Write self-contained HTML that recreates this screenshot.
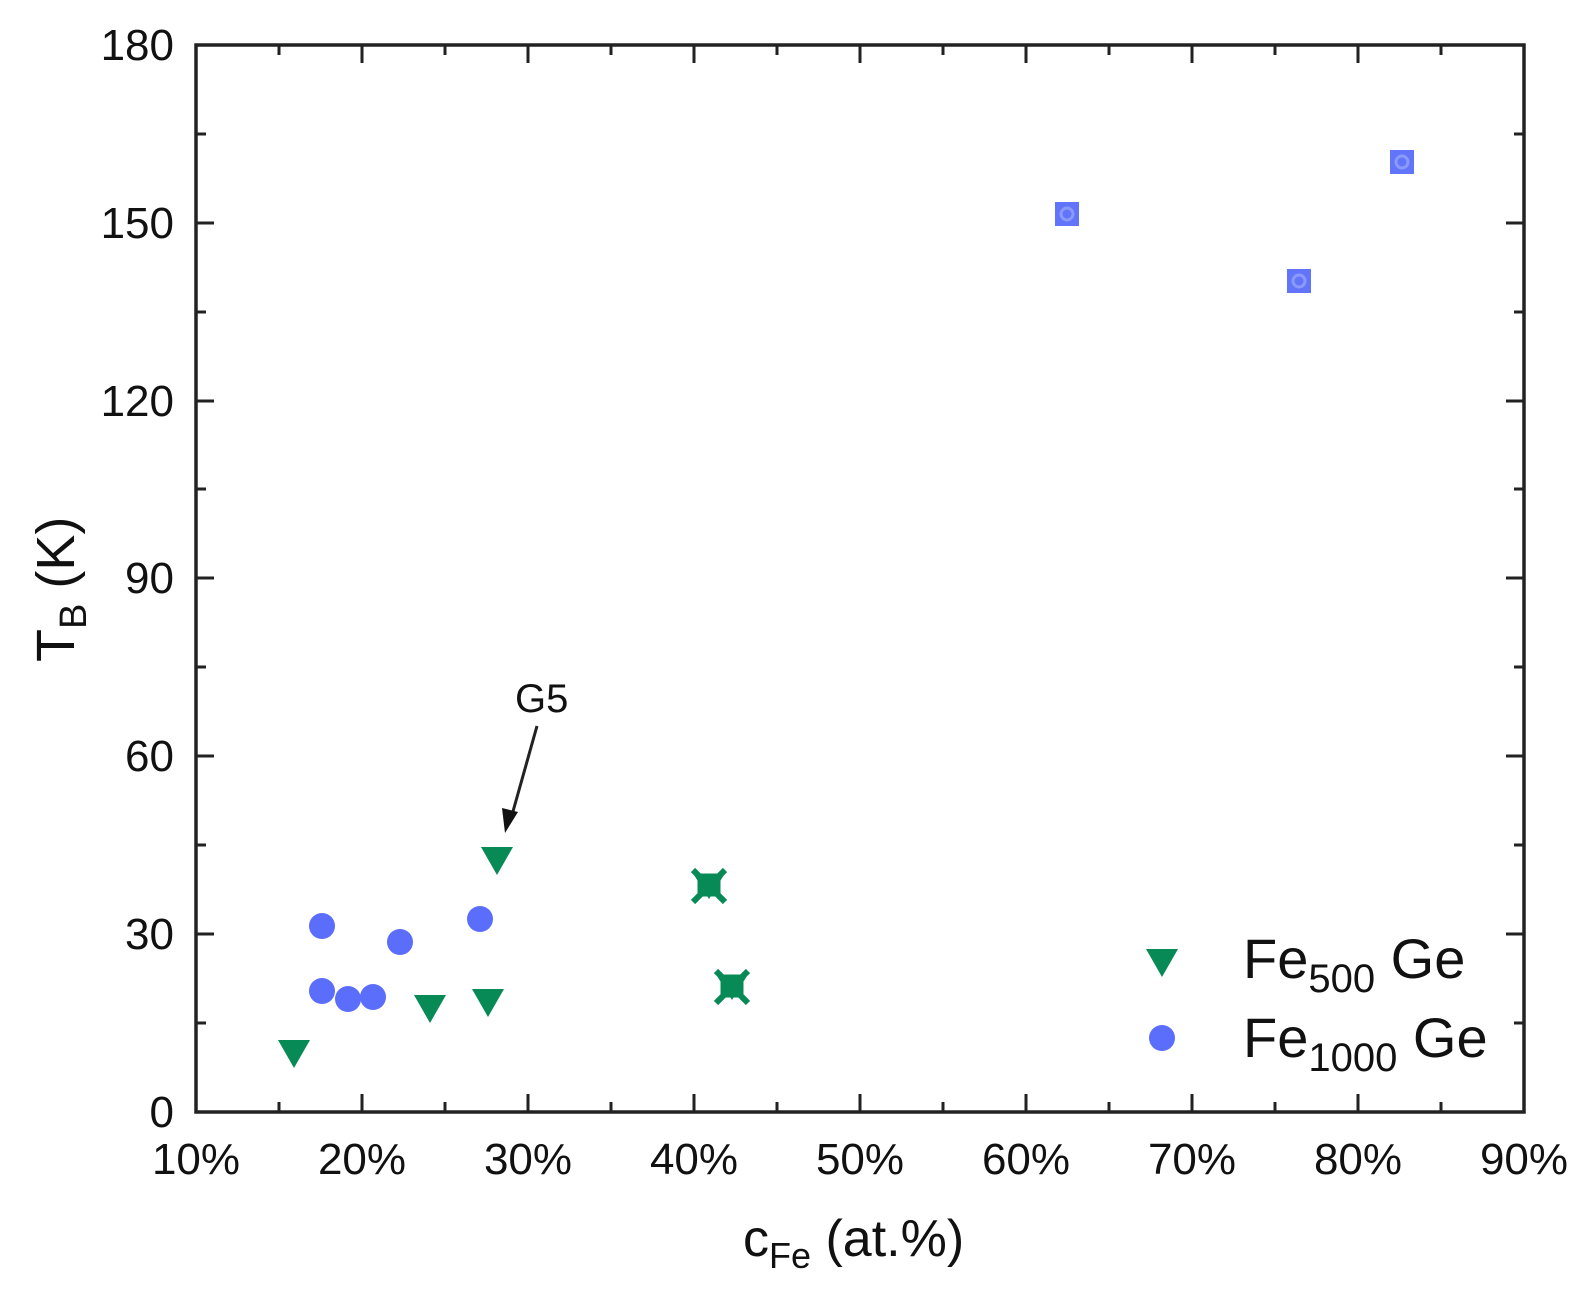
<!DOCTYPE html>
<html><head><meta charset="utf-8"><style>body{margin:0;background:#fff}svg{display:block}text{font-family:"Liberation Sans",sans-serif;fill:#111}</style></head><body>
<svg width="1588" height="1296" viewBox="0 0 1588 1296" xmlns="http://www.w3.org/2000/svg">
<defs>
<path id="tri" d="M-16,-13 L16,-13 L0,15 Z" fill="#078a55"/>
</defs>
<g stroke="#222" stroke-width="3">
<rect x="196" y="45" width="1328" height="1067" fill="none" stroke-width="3.5"/>
<path d="M362,1112v-18M528,1112v-18M694,1112v-18M860,1112v-18M1026,1112v-18M1192,1112v-18M1358,1112v-18
M279,1112v-10M445,1112v-10M611,1112v-10M777,1112v-10M943,1112v-10M1109,1112v-10M1275,1112v-10M1441,1112v-10
M362,45v18M528,45v18M694,45v18M860,45v18M1026,45v18M1192,45v18M1358,45v18
M279,45v10M445,45v10M611,45v10M777,45v10M943,45v10M1109,45v10M1275,45v10M1441,45v10"/>
<path d="M196,934h18M196,756h18M196,578h18M196,401h18M196,223h18
M196,1023h10M196,845h10M196,667h10M196,489h10M196,312h10M196,134h10
M1524,934h-18M1524,756h-18M1524,578h-18M1524,401h-18M1524,223h-18
M1524,1023h-10M1524,845h-10M1524,667h-10M1524,489h-10M1524,312h-10M1524,134h-10"/>
</g>
<g font-size="44" text-anchor="end">
<text x="174" y="1127">0</text><text x="174" y="949">30</text><text x="174" y="771">60</text><text x="174" y="593">90</text><text x="174" y="416">120</text><text x="174" y="238">150</text><text x="174" y="60">180</text>
</g>
<g font-size="44" text-anchor="middle">
<text x="196" y="1174">10%</text><text x="362" y="1174">20%</text><text x="528" y="1174">30%</text><text x="694" y="1174">40%</text><text x="860" y="1174">50%</text><text x="1026" y="1174">60%</text><text x="1192" y="1174">70%</text><text x="1358" y="1174">80%</text><text x="1524" y="1174">90%</text>
</g>
<text x="743" y="1256" font-size="52">c<tspan font-size="36" dy="12">Fe</tspan><tspan dy="-12"> (at.%)</tspan></text>
<text transform="translate(74,662) rotate(-90)" font-size="54">T<tspan font-size="38" dy="12">B</tspan><tspan dy="-12"> (K)</tspan></text>
<use href="#tri" x="294" y="1053"/><use href="#tri" x="430" y="1008"/><use href="#tri" x="488" y="1002"/><use href="#tri" x="497" y="860"/>
<g fill="#078a55" stroke="#078a55">
<g transform="translate(709,886)"><path d="M-15,-12 L15,-12 L0,12 Z"/><path d="M-16,-16 L16,16 M16,-16 L-16,16" stroke-width="6"/><rect x="-11" y="-10" width="22" height="20"/></g>
<g transform="translate(732,987)"><path d="M-15,-12 L15,-12 L0,12 Z"/><path d="M-16,-16 L16,16 M16,-16 L-16,16" stroke-width="6"/><rect x="-11" y="-10" width="22" height="20"/></g>
</g>
<g fill="#5a6dfb">
<circle cx="322" cy="926" r="13"/><circle cx="322" cy="991" r="13"/><circle cx="348" cy="999" r="13"/><circle cx="373" cy="997" r="13"/><circle cx="400" cy="942" r="13"/><circle cx="480" cy="919" r="13"/>
</g>
<g fill="#6275fa">
<rect x="1055" y="202" width="24" height="24"/><rect x="1287" y="269" width="24" height="24"/><rect x="1390" y="150" width="24" height="24"/>
</g>
<g fill="none" stroke="#8a9af8" stroke-width="3"><circle cx="1067" cy="214" r="6"/><circle cx="1299" cy="281" r="6"/><circle cx="1402" cy="162" r="6"/></g>
<text x="515" y="712" font-size="40">G5</text>
<line x1="537" y1="726" x2="512" y2="815" stroke="#222" stroke-width="3"/>
<path d="M505,833 L502,808 L518,812 Z" fill="#111"/>
<use href="#tri" x="1162" y="962"/>
<circle cx="1162" cy="1038" r="13" fill="#5a6dfb"/>
<text x="1243" y="978" font-size="56">Fe<tspan font-size="40" dy="14">500</tspan><tspan dy="-14"> Ge</tspan></text>
<text x="1243" y="1057" font-size="56">Fe<tspan font-size="40" dy="14">1000</tspan><tspan dy="-14"> Ge</tspan></text>
</svg>
</body></html>
